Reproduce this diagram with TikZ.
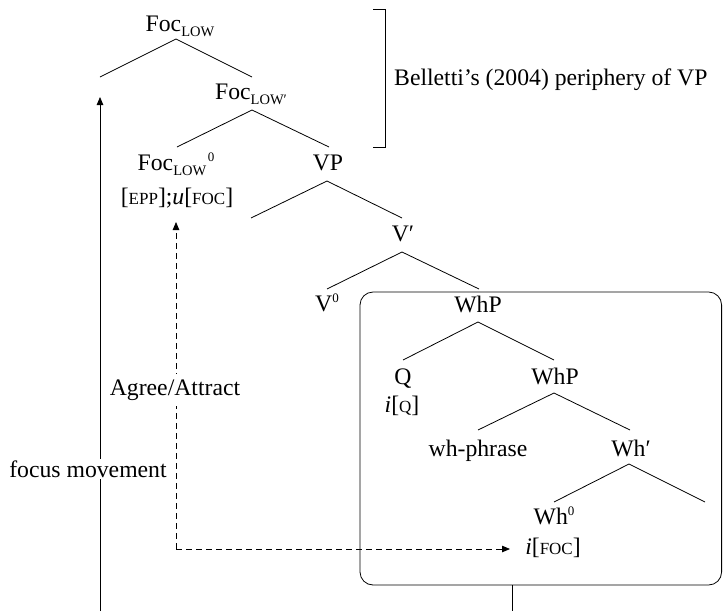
\documentclass[tikz,border=0pt]{standalone}
\usepackage{fontspec}
\setmainfont{Liberation Serif}
\usetikzlibrary{arrows.meta}
% faked small capitals, subscripts and superscripts for the labels
\newcommand\fsc[1]{{\fontsize{17}{17}\selectfont #1}}
\newcommand\sublow[1]{\raisebox{-5pt}{\fontsize{14.5}{14.5}\selectfont #1}}
\newcommand\supzero{\raisebox{8.5pt}{\fontsize{13}{13}\selectfont 0}}

\begin{document}
\begin{tikzpicture}[x=1pt,y=-1pt,
  lbl/.style={inner sep=0pt, anchor=base, font=\fontsize{23.7}{28}\selectfont},
  branch/.style={line width=0.8pt},
  tip/.style={-{Triangle[length=8pt,width=6.5pt]}},
  movearrow/.style={line width=0.8pt, tip},
  agreearrow/.style={line width=0.8pt, tip, dash pattern=on 6pt off 4pt}]
\useasboundingbox (0,0) rectangle (723,611);

% ---- branch points ----
\coordinate (a1) at (176,39);  \coordinate (l1) at (100,77);  \coordinate (r1) at (252,77);
\coordinate (a2) at (252,110); \coordinate (l2) at (177,147); \coordinate (r2) at (329,147);
\coordinate (a3) at (327,181); \coordinate (l3) at (251,218); \coordinate (r3) at (402,218);
\coordinate (a4) at (402,252); \coordinate (l4) at (327,289); \coordinate (r4) at (479,289);
\coordinate (a5) at (478,322); \coordinate (l5) at (403,360); \coordinate (r5) at (554,360);
\coordinate (a6) at (554,393); \coordinate (l6) at (478,430); \coordinate (r6) at (630,430);
\coordinate (a7) at (629,464); \coordinate (l7) at (554,502); \coordinate (r7) at (705,502);

% ---- tree branches ----
\foreach \n in {1,...,7}{
  \draw[branch] (l\n) -- (a\n) -- (r\n);
}

% ---- the wh-phrase box ----
\draw[branch, rounded corners=13pt] (360,292) rectangle (721.6,585);
\coordinate (boxbot) at (512,585);
\coordinate (boxout) at (512,611);
\draw[branch] (boxbot) -- (boxout);

% ---- bracket for the VP periphery ----
\coordinate (brt) at (373,9);
\coordinate (brb) at (373,147);
\draw[branch] (brt) -- (385,9) -- (385,147) -- (brb);
\node[lbl, anchor=west] (belletti) at (394,80) {Belletti’s (2004) periphery of VP};

% ---- node labels ----
\node[lbl] (foclow)  at (180,31)  {Foc\sublow{LOW}};
\node[lbl] (focbar)  at (251,99)  {Foc\sublow{LOW′}};
\node[lbl] (foczero) at (176,170) {Foc\sublow{LOW}\kern1.5pt\supzero};
\node[lbl] (focfeat) at (177,204) {[\fsc{EPP}];\textit{u}[\fsc{FOC}]};
\node[lbl] (vp)      at (328,170) {VP};
\node[lbl] (vbar)    at (403,241) {V′};
\node[lbl] (vzero)   at (327,311) {V\supzero};
\node[lbl] (whp)     at (478,312) {WhP};
\node[lbl] (q)       at (403,384) {Q};
\node[lbl] (qfeat)   at (402,412) {\textit{i}[\fsc{Q}]};
\node[lbl] (whpb)    at (555,384) {WhP};
\node[lbl] (whphr)   at (478,456) {wh-phrase};
\node[lbl] (whbar)   at (631,456) {Wh′};
\node[lbl] (whzero)  at (554,524) {Wh\supzero};
\node[lbl] (ifoc)    at (553,554) {\textit{i}[\fsc{FOC}]};

% ---- focus movement (solid) ----
\coordinate (fmstart) at (100,611);
\coordinate (fmend)   at (100,97);
\draw[movearrow] (fmstart) -- (fmend);
\node[lbl, anchor=center, fill=white, inner xsep=0pt, inner ysep=2pt] (fmlabel) at (88,469) {focus movement};

% ---- Agree/Attract (dashed) ----
\coordinate (agcorner) at (176,549);
\coordinate (agtip)    at (510,549);
\coordinate (agtop)    at (176,222);
\draw[agreearrow] (agcorner) -- (agtop);
\draw[agreearrow] (agcorner) -- (agtip);
\node[lbl, anchor=center, fill=white, inner xsep=1pt, inner ysep=6pt] (aglabel) at (175,390) {Agree/Attract};
\end{tikzpicture}
\end{document}
